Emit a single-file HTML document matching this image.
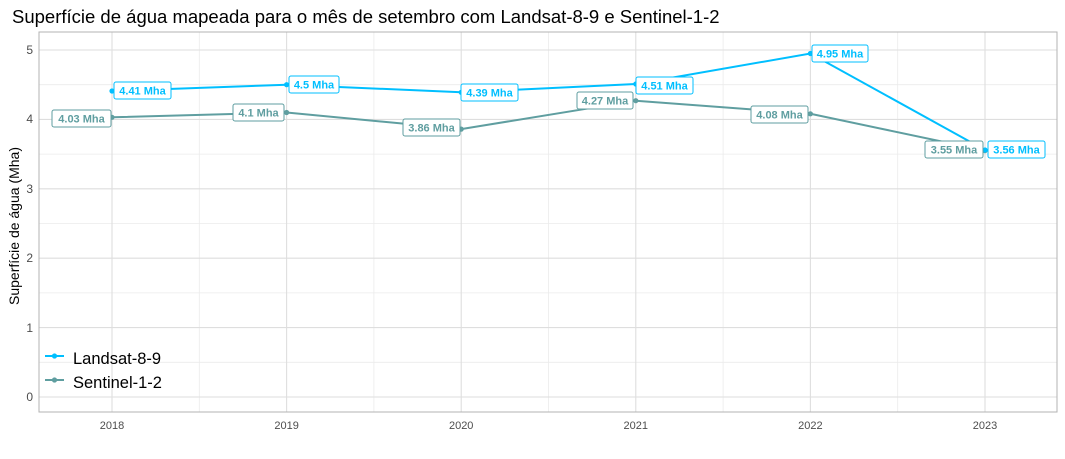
<!DOCTYPE html>
<html><head><meta charset="utf-8"><style>body{margin:0;background:#fff}svg{display:block}text{font-family:"Liberation Sans",sans-serif}</style></head><body>
<svg width="1065" height="459" viewBox="0 0 1065 459">
<text x="12" y="23" font-size="18.5" fill="#000">Superfície de água mapeada para o mês de setembro com Landsat-8-9 e Sentinel-1-2</text>
<g stroke="#ebebeb" stroke-width="0.8">
<line x1="39" x2="1057" y1="362.3" y2="362.3"/><line x1="39" x2="1057" y1="292.9" y2="292.9"/><line x1="39" x2="1057" y1="223.5" y2="223.5"/><line x1="39" x2="1057" y1="154.1" y2="154.1"/><line x1="39" x2="1057" y1="84.7" y2="84.7"/>
<line y1="32" y2="412" x1="199.3" x2="199.3"/><line y1="32" y2="412" x1="373.9" x2="373.9"/><line y1="32" y2="412" x1="548.5" x2="548.5"/><line y1="32" y2="412" x1="723.1" x2="723.1"/><line y1="32" y2="412" x1="897.7" x2="897.7"/>
</g>
<g stroke="#dedede" stroke-width="1.1">
<line x1="39" x2="1057" y1="397" y2="397"/><line x1="39" x2="1057" y1="327.6" y2="327.6"/><line x1="39" x2="1057" y1="258.2" y2="258.2"/><line x1="39" x2="1057" y1="188.8" y2="188.8"/><line x1="39" x2="1057" y1="119.4" y2="119.4"/><line x1="39" x2="1057" y1="50" y2="50"/>
<line y1="32" y2="412" x1="112" x2="112"/><line y1="32" y2="412" x1="286.6" x2="286.6"/><line y1="32" y2="412" x1="461.2" x2="461.2"/><line y1="32" y2="412" x1="635.8" x2="635.8"/><line y1="32" y2="412" x1="810.4" x2="810.4"/><line y1="32" y2="412" x1="985" x2="985"/>
</g>
<rect x="39" y="32" width="1018" height="380" fill="none" stroke="#b3b3b3" stroke-width="1"/>
<g font-size="12" fill="#4d4d4d" text-anchor="end">
<text x="33" y="401">0</text><text x="33" y="332">1</text><text x="33" y="262">2</text><text x="33" y="193">3</text><text x="33" y="123">4</text><text x="33" y="54">5</text>
</g>
<g font-size="11" fill="#4d4d4d" text-anchor="middle">
<text x="112" y="429">2018</text><text x="286.6" y="429">2019</text><text x="461.2" y="429">2020</text><text x="635.8" y="429">2021</text><text x="810.4" y="429">2022</text><text x="985" y="429">2023</text>
</g>
<text transform="translate(19,226) rotate(-90)" font-size="14" text-anchor="middle" fill="#000">Superfície de água (Mha)</text>
<polyline fill="none" stroke="#5F9EA0" stroke-width="2" points="112,117.3 286.6,112.5 461.2,129.1 635.8,100.7 810.4,113.8 985,150.6"/>
<polyline fill="none" stroke="#00BFFF" stroke-width="2" points="112,91 286.6,84.7 461.2,92.3 635.8,84 810.4,53.5 985,150"/>
<g fill="#5F9EA0"><circle cx="112" cy="117.3" r="2.6"/><circle cx="286.6" cy="112.5" r="2.6"/><circle cx="461.2" cy="129.1" r="2.6"/><circle cx="635.8" cy="100.7" r="2.6"/><circle cx="810.4" cy="113.8" r="2.6"/><circle cx="985" cy="150.6" r="2.6"/></g>
<g fill="#00BFFF"><circle cx="112" cy="91" r="2.6"/><circle cx="286.6" cy="84.7" r="2.6"/><circle cx="461.2" cy="92.3" r="2.6"/><circle cx="635.8" cy="84" r="2.6"/><circle cx="810.4" cy="53.5" r="2.6"/><circle cx="985" cy="150" r="2.6"/></g>
<g font-size="11" font-weight="bold" fill="#5F9EA0" text-anchor="middle">
<g fill="#fff" stroke="#5F9EA0" stroke-width="1">
<rect x="52" y="110" width="59" height="17" rx="2"/><rect x="233" y="104" width="51" height="17" rx="2"/><rect x="403" y="119" width="57" height="17" rx="2"/><rect x="577" y="92" width="56" height="17" rx="2"/><rect x="751" y="106" width="57" height="17" rx="2"/><rect x="925" y="141" width="58" height="17" rx="2"/>
</g>
<text x="81.5" y="122.5">4.03 Mha</text><text x="258.5" y="116.5">4.1 Mha</text><text x="431.5" y="131.5">3.86 Mha</text><text x="605" y="104.5">4.27 Mha</text><text x="779.5" y="118.5">4.08 Mha</text><text x="954" y="153.5">3.55 Mha</text>
</g>
<g font-size="11" font-weight="bold" fill="#00BFFF" text-anchor="middle">
<g fill="#fff" stroke="#00BFFF" stroke-width="1">
<rect x="114" y="82" width="57" height="17" rx="2"/><rect x="289" y="76" width="50" height="17" rx="2"/><rect x="461" y="84" width="57" height="17" rx="2"/><rect x="636" y="77" width="57" height="17" rx="2"/><rect x="812" y="45" width="56" height="17" rx="2"/><rect x="988" y="141" width="57" height="17" rx="2"/>
</g>
<text x="142.5" y="94.5">4.41 Mha</text><text x="314" y="88.5">4.5 Mha</text><text x="489.5" y="96.5">4.39 Mha</text><text x="664.5" y="89.5">4.51 Mha</text><text x="840" y="57.5">4.95 Mha</text><text x="1016.5" y="153.5">3.56 Mha</text>
</g>
<line x1="45" x2="64" y1="356" y2="356" stroke="#00BFFF" stroke-width="2"/><circle cx="54.5" cy="356" r="2.6" fill="#00BFFF"/>
<line x1="45" x2="64" y1="380" y2="380" stroke="#5F9EA0" stroke-width="2"/><circle cx="54.5" cy="380" r="2.6" fill="#5F9EA0"/>
<text x="73" y="364" font-size="16.5" fill="#000">Landsat-8-9</text>
<text x="73" y="388" font-size="16.5" fill="#000">Sentinel-1-2</text>
</svg>
</body></html>
